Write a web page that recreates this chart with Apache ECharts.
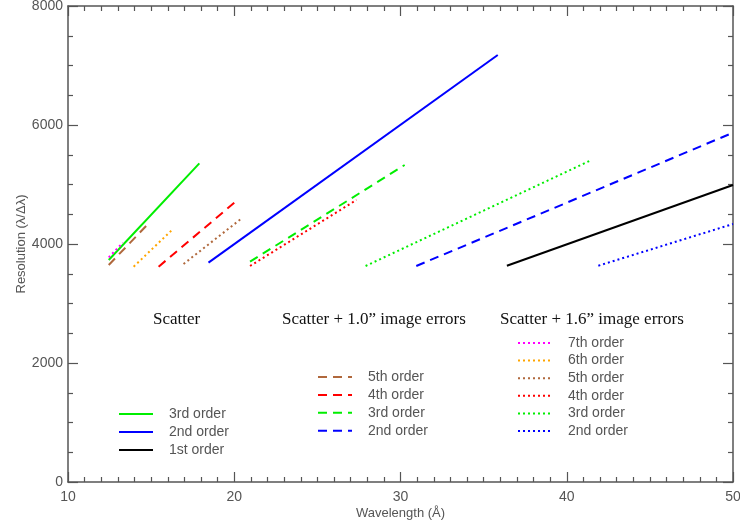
<!DOCTYPE html>
<html>
<head>
<meta charset="utf-8">
<title>Resolution vs wavelength</title>
<script src="https://cdn.jsdelivr.net/npm/echarts@6/dist/echarts.min.js"></script>
<style>
  html, body { margin: 0; padding: 0; background: #fff; }
  #chart { width: 740px; height: 527px; }
</style>
</head>
<body>
<div id="chart"></div>
<script>
// Axis ranges and ticks
const xTicks = [10, 20, 30, 40, 50];
const yTicks = [0, 2000, 4000, 6000, 8000];

// Scatter only (solid lines): [wavelength, resolution] end points
const scatter1st = [[36.4, 3635], [50, 4992]];
const scatter2nd = [[18.45, 3686], [35.85, 7177]];
const scatter3rd = [[12.45, 3731], [17.9, 5356]];

// Scatter + 1.0" image errors (dashed lines)
const err10_2nd = [[30.95, 3630], [50, 5871]];
const err10_3rd = [[20.95, 3703], [30.25, 5328]];
const err10_4th = [[15.45, 3619], [20.15, 4728]];
const err10_5th = [[12.45, 3647], [14.95, 4375]];

// Scatter + 1.6" image errors (dotted lines)
const err16_2nd = [[41.9, 3635], [50, 4336]];
const err16_3rd = [[27.9, 3630], [41.4, 5400]];
const err16_4th = [[20.95, 3630], [27.35, 4740]];
const err16_5th = [[16.95, 3664], [20.4, 4420]];
const err16_6th = [[13.95, 3619], [16.3, 4247]];
const err16_7th = [[12.45, 3776], [13.3, 4022]];

const groupTitles = ['Scatter', 'Scatter + 1.0\u201D image errors', 'Scatter + 1.6\u201D image errors'];

const COLORS = {
  green: '#00ee00',
  blue: '#0000ff',
  black: '#000000',
  red: '#ff0000',
  brown: '#b0683c',
  orange: '#ffa500',
  magenta: '#ff00ff'
};
const DASH = [9, 6];
const DOT = [2, 3];

// group key | legend label, data, colour, dash
const seriesDefs = [
  ['solid|3rd order', scatter3rd, COLORS.green, 'solid'],
  ['solid|2nd order', scatter2nd, COLORS.blue, 'solid'],
  ['solid|1st order', scatter1st, COLORS.black, 'solid'],
  ['dash|5th order', err10_5th, COLORS.brown, DASH],
  ['dash|4th order', err10_4th, COLORS.red, DASH],
  ['dash|3rd order', err10_3rd, COLORS.green, DASH],
  ['dash|2nd order', err10_2nd, COLORS.blue, DASH],
  ['dot|7th order', err16_7th, COLORS.magenta, DOT],
  ['dot|6th order', err16_6th, COLORS.orange, DOT],
  ['dot|5th order', err16_5th, COLORS.brown, DOT],
  ['dot|4th order', err16_4th, COLORS.red, DOT],
  ['dot|3rd order', err16_3rd, COLORS.green, DOT],
  ['dot|2nd order', err16_2nd, COLORS.blue, DOT]
];

const AXIS_COLOR = '#555';
const axisLine = { show: true, onZero: false, lineStyle: { color: AXIS_COLOR, width: 1.5 } };
const axisTick = { show: true, inside: true, length: 10, lineStyle: { color: AXIS_COLOR, width: 1.2 } };
const minorTick = (n) => ({ show: true, splitNumber: n, length: 5, lineStyle: { color: AXIS_COLOR, width: 1.2 } });
const labelFont = { color: '#555', fontFamily: 'Liberation Sans', fontSize: 14, formatter: (v) => String(v) };
const nameFont = { color: '#555', fontFamily: 'Liberation Sans', fontSize: 13 };

function makeLegend(group, left, top, gap) {
  return {
    show: true,
    orient: 'vertical',
    left: left,
    top: top,
    padding: 0,
    itemWidth: 34,
    itemHeight: 14,
    itemGap: gap,
    selectedMode: false,
    data: seriesDefs.filter(d => d[0].startsWith(group + '|')).map(d => d[0]),
    formatter: (name) => name.split('|')[1],
    itemStyle: { opacity: 0 },
    textStyle: { color: '#555', fontFamily: 'Liberation Sans', fontSize: 14, padding: [0, 0, 0, 11] }
  };
}

const titleFont = { color: '#111', fontFamily: 'Liberation Serif', fontSize: 17, fontWeight: 'normal' };

const option = {
  animation: false,
  backgroundColor: '#fff',
  grid: { left: 68, right: 7, top: 6, bottom: 45, containLabel: false, outerBoundsMode: 'none' },
  title: [
    { text: groupTitles[0], left: 153, top: 311, padding: 0, textStyle: titleFont },
    { text: groupTitles[1], left: 282, top: 311, padding: 0, textStyle: titleFont },
    { text: groupTitles[2], left: 500, top: 311, padding: 0, textStyle: titleFont }
  ],
  legend: [
    makeLegend('solid', 118, 407, 4),
    makeLegend('dash', 317, 370, 3.9),
    makeLegend('dot', 517, 336, 3.6)
  ],
  xAxis: [
    {
      type: 'value', position: 'bottom',
      min: xTicks[0], max: xTicks[xTicks.length - 1], interval: 10,
      name: 'Wavelength (\u00C5)', nameLocation: 'middle', nameGap: 25, nameMoveOverlap: false,
      nameTextStyle: nameFont,
      axisLine, axisTick, minorTick: minorTick(10),
      splitLine: { show: false },
      axisLabel: Object.assign({ margin: 8 }, labelFont)
    },
    {
      type: 'value', position: 'top',
      min: xTicks[0], max: xTicks[xTicks.length - 1], interval: 10,
      axisLine, axisTick, minorTick: minorTick(10),
      splitLine: { show: false },
      axisLabel: { show: false }
    }
  ],
  yAxis: [
    {
      type: 'value', position: 'left',
      min: yTicks[0], max: yTicks[yTicks.length - 1], interval: 2000,
      name: 'Resolution (\u03BB/\u0394\u03BB)', nameLocation: 'middle', nameGap: 40, nameMoveOverlap: false,
      nameTextStyle: nameFont,
      axisLine, axisTick, minorTick: minorTick(4),
      splitLine: { show: false },
      axisLabel: Object.assign({ margin: 5 }, labelFont)
    },
    {
      type: 'value', position: 'right',
      min: yTicks[0], max: yTicks[yTicks.length - 1], interval: 2000,
      axisLine, axisTick, minorTick: minorTick(4),
      splitLine: { show: false },
      axisLabel: { show: false }
    }
  ],
  series: seriesDefs.map(([name, data, color, type]) => ({
    name: name,
    type: 'line',
    xAxisIndex: 0,
    yAxisIndex: 0,
    data: data,
    symbol: 'none',
    color: color,
    lineStyle: { color: color, width: 2, type: type },
    emphasis: { disabled: true },
    silent: true
  }))
};

const chart = echarts.init(document.getElementById('chart'), null, { renderer: 'canvas' });
chart.setOption(option);
</script>
</body>
</html>
